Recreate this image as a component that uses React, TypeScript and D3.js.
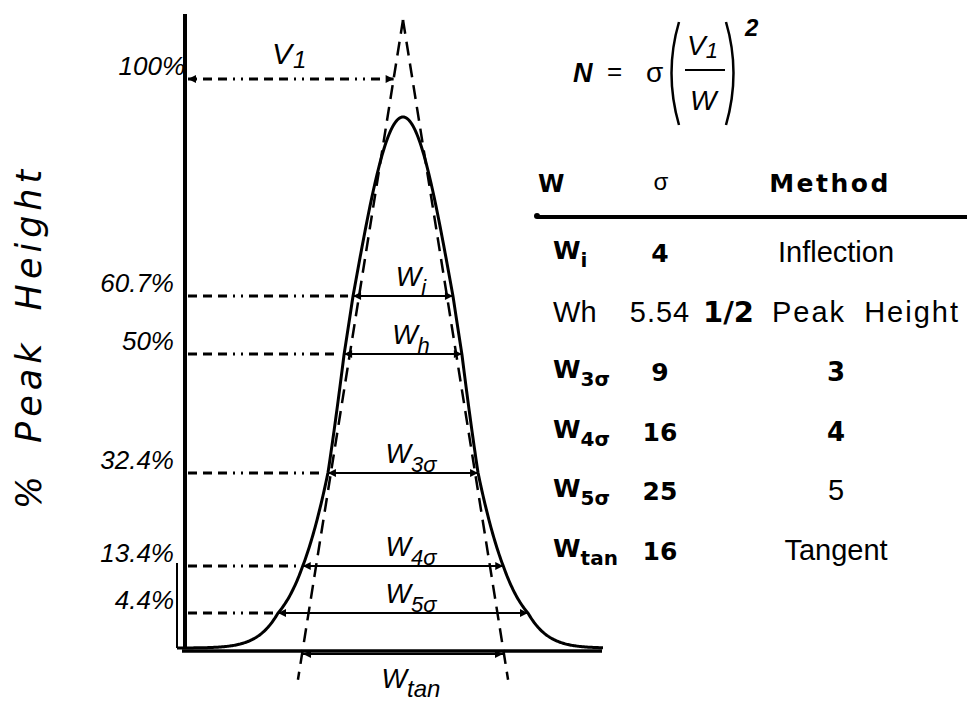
import React from "react";
import * as d3 from "d3";

// ---- data ----
const levelValues = [60.7, 50, 32.4, 13.4, 4.4];
const levelLabels = ["60.7%", "50%", "32.4%", "13.4%", "4.4%"];
const levelSubs = ["i", "h", "3σ", "4σ", "5σ"];
const peakValue = 100;
const peakLabel = "100%";
const tangentApexValue = 121.3; // 2/sqrt(e) of peak height
const tangentHalfWidthSigma = 2;

const tableHeaders = ["W", "σ", "Method"];
const tableWSubs = ["i", "h", "3σ", "4σ", "5σ", "tan"];
const tableSigma = ["4", "5.54", "9", "16", "25", "16"];
const tableMethod = ["Inflection", "1/2 Peak Height", "3", "4", "5", "Tangent"];

const W = 967;
const H = 702;

export default function App() {
  // x in units of sigma, y in % of peak height
  const x = d3.scaleLinear().domain([-5, 5]).range([153, 653]);
  const y = d3
    .scaleLinear()
    .domain([0, ...levelValues.slice().reverse(), peakValue])
    .range([648, 613, 566, 473, 354, 296, 117]);

  const gauss = (t: number) => peakValue * Math.exp((-t * t) / 2);
  const halfWidth = (p: number) => Math.sqrt(-2 * Math.log(p / peakValue));

  const ts = d3.range(-4.52, 4.0001, 0.02);
  const line = d3
    .line<number>()
    .x((t) => x(t))
    .y((t) => y(gauss(t)));
  const curvePath = line(ts) || "";

  const axisX = 185;
  const baseY = y(0);

  // tangents (pixel straight lines from apex to baseline intercept)
  const apex: [number, number] = [x(0), y(tangentApexValue)];
  const tanBase = (side: number): [number, number] => [x(side * tangentHalfWidthSigma), y(0)];
  const tanAtY = (side: number, py: number) => {
    const b = tanBase(side);
    return apex[0] + ((b[0] - apex[0]) * (py - apex[1])) / (b[1] - apex[1]);
  };
  const tanBottomY = y(-4);

  const v1Y = y(peakValue) - 38;

  const dashDot = "9 6 9 6 9 6 2 6 2 6";
  const italic = "'Liberation Sans', Arial, sans-serif";
  const bold = "'DejaVu Sans', sans-serif";

  const rowY = d3.scaleLinear().domain([0, tableWSubs.length - 1]).range([262, 560]);
  const colW = 553;
  const colSigma = 660;
  const colMethod = 836;

  return (
    <svg
      width={W}
      height={H}
      style={{ position: "absolute", left: 0, top: 0, background: "#fff", display: "block" }}
    >
      <defs>
        <marker
          id="ah"
          viewBox="0 0 10 10"
          refX="10"
          refY="5"
          markerWidth="12"
          markerHeight="8"
          markerUnits="userSpaceOnUse"
          orient="auto-start-reverse"
        >
          <path d="M0,0 L10,5 L0,10 z" fill="#000" />
        </marker>
      </defs>
      <rect x={0} y={0} width={W} height={H} fill="#fff" />

      {/* y axis title */}
      <text
        transform={`translate(41,${337}) rotate(-90)`}
        textAnchor="middle"
        fontFamily="'DejaVu Sans', sans-serif"
        fontStyle="italic"
        fontSize={35}
        letterSpacing={5}
        wordSpacing={12}
        fill="#000"
      >
        % Peak Height
      </text>

      {/* axes */}
      <line x1={axisX} y1={14} x2={axisX} y2={baseY} stroke="#000" strokeWidth={4} />
      <line x1={177} y1={y(13.4) - 3} x2={177} y2={baseY} stroke="#000" strokeWidth={2} />
      <line x1={182} y1={baseY + 3} x2={602} y2={baseY + 3} stroke="#000" strokeWidth={3.5} />

      {/* tangent lines */}
      {[-1, 1].map((side) => (
        <line
          key={side}
          x1={apex[0]}
          y1={apex[1]}
          x2={tanAtY(side, tanBottomY)}
          y2={tanBottomY}
          stroke="#000"
          strokeWidth={2.5}
          strokeDasharray="14 8"
        />
      ))}

      {/* curve */}
      <path d={curvePath} fill="none" stroke="#000" strokeWidth={3} />

      {/* V1 / 100% */}
      <text x={axisX} y={v1Y - 4} textAnchor="end" fontFamily={italic} fontStyle="italic" fontSize={26}>
        {peakLabel}
      </text>
      <line
        x1={axisX + 3}
        y1={v1Y}
        x2={tanAtY(-1, v1Y)}
        y2={v1Y}
        stroke="#000"
        strokeWidth={2.8}
        strokeDasharray={dashDot}
        markerStart="url(#ah)"
        markerEnd="url(#ah)"
      />
      <text x={272} y={v1Y - 15} fontFamily={italic} fontStyle="italic" fontSize={30}>
        V
        <tspan fontSize={24} dx={1} dy={4}>
          1
        </tspan>
      </text>

      {/* levels */}
      {levelValues.map((p, i) => {
        const ly = y(p);
        const t = halfWidth(p);
        const xl = x(-t);
        const xr = x(t);
        return (
          <g key={p}>
            <text x={174} y={ly - 4} textAnchor="end" fontFamily={italic} fontStyle="italic" fontSize={26}>
              {levelLabels[i]}
            </text>
            <line
              x1={axisX + 3}
              y1={ly}
              x2={xl - 5}
              y2={ly}
              stroke="#000"
              strokeWidth={2.8}
              strokeDasharray={dashDot}
            />
            <line
              x1={xl}
              y1={ly}
              x2={xr}
              y2={ly}
              stroke="#000"
              strokeWidth={2}
              markerStart="url(#ah)"
              markerEnd="url(#ah)"
            />
            <text x={x(0) + 8} y={ly - 10} textAnchor="middle" fontFamily={italic} fontStyle="italic" fontSize={27}>
              W
              <tspan fontSize={22} dy={9}>
                {levelSubs[i]}
              </tspan>
            </text>
          </g>
        );
      })}

      {/* W tan */}
      <line
        x1={x(-tangentHalfWidthSigma)}
        y1={baseY + 6}
        x2={x(tangentHalfWidthSigma)}
        y2={baseY + 6}
        stroke="#000"
        strokeWidth={2}
        markerStart="url(#ah)"
        markerEnd="url(#ah)"
      />
      <text x={x(0) + 8} y={baseY + 40} textAnchor="middle" fontFamily={italic} fontStyle="italic" fontSize={27}>
        W
        <tspan fontSize={24} dy={9}>
          tan
        </tspan>
      </text>

      {/* formula */}
      <g fill="#000">
        <text x={573} y={82} fontFamily={italic} fontStyle="italic" fontWeight="bold" fontSize={27}>
          N
        </text>
        <text x={607} y={80} fontFamily={italic} fontSize={26}>
          =
        </text>
        <text x={646} y={82} fontFamily={italic} fontSize={28}>
          σ
        </text>
        <path d="M679,22 Q664,73 679,125" fill="none" stroke="#000" strokeWidth={2.5} />
        <path d="M726,22 Q741,73 726,125" fill="none" stroke="#000" strokeWidth={2.5} />
        <text x={687} y={55} fontFamily={italic} fontStyle="italic" fontSize={28}>
          V
          <tspan fontSize={22} dy={3}>
            1
          </tspan>
        </text>
        <line x1={685} y1={70} x2={725} y2={70} stroke="#000" strokeWidth={2} />
        <text x={690} y={110} fontFamily={italic} fontStyle="italic" fontSize={28}>
          W
        </text>
        <text x={745} y={36} fontFamily={italic} fontStyle="italic" fontWeight="bold" fontSize={24}>
          2
        </text>
      </g>

      {/* table header */}
      <text x={538} y={192} fontFamily={bold} fontWeight="bold" fontSize={24}>
        {tableHeaders[0]}
      </text>
      <text x={661} y={190} textAnchor="middle" fontFamily={italic} fontSize={24}>
        {tableHeaders[1]}
      </text>
      <text x={830} y={192} textAnchor="middle" fontFamily={bold} fontWeight="bold" fontSize={25} letterSpacing={2.5}>
        {tableHeaders[2]}
      </text>
      <line x1={537} y1={217} x2={967} y2={217} stroke="#000" strokeWidth={4} />
      <circle cx={537} cy={216} r={3} fill="#000" />

      {/* table rows */}
      {tableWSubs.map((s, i) => {
        const ry = rowY(i);
        const isHalf = s === "h";
        const methodBold = tableMethod[i].length === 1 && i < 4;
        return (
          <g key={s}>
            {isHalf ? (
              <text x={colW} y={ry} fontFamily={italic} fontSize={29}>
                W{s}
              </text>
            ) : (
              <text x={colW} y={ry - 3} fontFamily={bold} fontWeight="bold" fontSize={25}>
                W
                <tspan fontSize={20} dy={8}>
                  {s}
                </tspan>
              </text>
            )}
            <text
              x={colSigma}
              y={ry}
              textAnchor="middle"
              fontFamily={isHalf ? italic : bold}
              fontWeight={isHalf ? "normal" : "bold"}
              fontSize={isHalf ? 29 : 25}
              letterSpacing={isHalf ? 1 : 0}
            >
              {tableSigma[i]}
            </text>
            {isHalf ? (
              <text x={703} y={ry} fontFamily={italic} fontSize={29} letterSpacing={2} wordSpacing={8}>
                <tspan fontFamily={bold} fontWeight="bold" letterSpacing={0}>
                  {tableMethod[i].split(" ")[0]}
                </tspan>
                {" " + tableMethod[i].split(" ").slice(1).join(" ")}
              </text>
            ) : (
              <text
                x={colMethod}
                y={ry}
                textAnchor="middle"
                fontFamily={methodBold ? bold : italic}
                fontWeight={methodBold ? "bold" : "normal"}
                fontSize={methodBold ? 26 : 29}
              >
                {tableMethod[i]}
              </text>
            )}
          </g>
        );
      })}
    </svg>
  );
}
